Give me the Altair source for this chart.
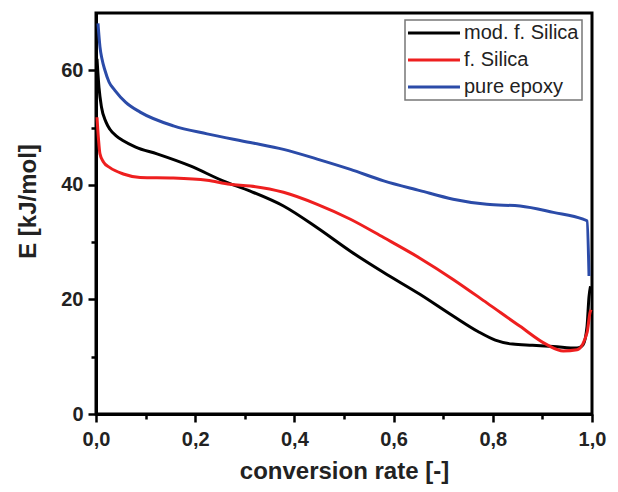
import altair as alt
import pandas as pd

series_names = ["mod. f. Silica", "f. Silica", "pure epoxy"]
series_colors = ["#000000", "#ee1f1f", "#2b4ba8"]

mod_x = [0.002, 0.006, 0.011, 0.02, 0.028, 0.04, 0.055, 0.08, 0.123, 0.19, 0.256,
         0.311, 0.378, 0.446, 0.513, 0.58, 0.653, 0.72, 0.77, 0.805, 0.84, 0.88,
         0.922, 0.97, 0.982, 0.99, 0.994, 0.997]
mod_y = [62.0, 57.0, 53.6, 51.0, 49.7, 48.6, 47.7, 46.6, 45.4, 43.3, 40.7,
         38.9, 36.3, 32.5, 28.4, 24.7, 20.9, 17.1, 14.4, 12.9, 12.2, 12.0,
         11.8, 11.5, 12.1, 15.3, 20.5, 22.3]

fsil_x = [0.002, 0.005, 0.008, 0.015, 0.028, 0.055, 0.089, 0.156, 0.224, 0.27,
          0.311, 0.378, 0.446, 0.513, 0.58, 0.653, 0.72, 0.788, 0.855, 0.909,
          0.942, 0.97, 0.99, 0.996, 0.998]
fsil_y = [51.8, 48.0, 45.4, 44.0, 43.0, 41.9, 41.3, 41.2, 40.8, 40.1,
          39.8, 38.7, 36.6, 34.0, 30.8, 27.2, 23.5, 19.4, 15.3, 12.1,
          11.0, 11.2, 14.2, 17.7, 18.2]

epoxy_x = [0.004, 0.008, 0.012, 0.018, 0.026, 0.038, 0.06, 0.089, 0.156, 0.224,
           0.311, 0.378, 0.446, 0.513, 0.58, 0.653, 0.72, 0.788, 0.855, 0.922,
           0.982, 0.99, 0.994]
epoxy_y = [68.2, 64.1, 62.0, 60.0, 58.0, 56.5, 54.4, 52.7, 50.3, 48.9,
           47.4, 46.2, 44.5, 42.7, 40.7, 39.0, 37.5, 36.6, 36.3, 35.2,
           34.0, 33.7, 24.1]

x_major = [0.0, 0.2, 0.4, 0.6, 0.8, 1.0]
x_minor = [0.1, 0.3, 0.5, 0.7, 0.9]
y_major = [0, 20, 40, 60]
y_minor = [10, 30, 50]

rows = []
for name, xs, ys in zip(series_names, [mod_x, fsil_x, epoxy_x], [mod_y, fsil_y, epoxy_y]):
    for xv, yv in zip(xs, ys):
        rows.append({"series": name, "rate": xv, "E": yv})
df = pd.DataFrame(rows)

FONT = "Liberation Sans"
xscale = alt.Scale(domain=[0, 1], nice=False, zero=False)
yscale = alt.Scale(domain=[0, 70], nice=False)

lines = alt.Chart(df).mark_line(strokeWidth=3, interpolate="monotone").encode(
    x=alt.X("rate:Q", scale=xscale, axis=alt.Axis(
        orient="bottom", values=x_major, title="conversion rate [-]",
        labelExpr="replace(format(datum.value, '.1f'), '.', ',')",
        tickSize=8, labelPadding=7, labelFlush=False, labelOverlap=False,
        titleBaseline="alphabetic", titleY=64)),
    y=alt.Y("E:Q", scale=yscale, axis=alt.Axis(
        orient="left", values=y_major, title="E [kJ/mol]", format="d",
        tickSize=8, labelPadding=5, labelOverlap=False,
        titleAngle=270, titleBaseline="bottom", titleX=-56, titleY=188)),
    color=alt.Color("series:N",
                    scale=alt.Scale(domain=series_names, range=series_colors),
                    legend=alt.Legend(
                        orient="none", legendX=309, legendY=7, title=None,
                        symbolType="M-1.54,0H6.46", symbolSize=169,
                        symbolStrokeWidth=3, labelFont=FONT, labelFontSize=20,
                        labelFontWeight="normal", labelColor="#222222",
                        labelOffset=36, labelLimit=300, padding=3, rowPadding=7,
                        strokeColor="#777777", fillColor="white")),
)

minor = alt.Chart(df).mark_line(strokeOpacity=0).encode(
    x=alt.X("rate:Q", scale=xscale, axis=alt.Axis(
        orient="bottom", values=x_minor, labels=False, domain=False,
        title=None, tickSize=5)),
    y=alt.Y("E:Q", scale=yscale, axis=alt.Axis(
        orient="left", values=y_minor, labels=False, domain=False,
        title=None, tickSize=5)),
)

chart = alt.layer(lines, minor).resolve_axis(
    x="independent", y="independent"
).properties(
    width=496, height=401,
    padding={"left": 88, "top": 5, "right": 16, "bottom": 70},
    autosize=alt.AutoSizeParams(type="none"),
).configure_view(
    stroke="black", strokeWidth=3
).configure_axis(
    grid=False, domainColor="black", domainWidth=3, tickColor="black",
    tickWidth=2.5, labelFont=FONT, labelFontWeight="bold", labelFontSize=20,
    labelColor="#222222", titleFont=FONT, titleFontWeight="bold",
    titleFontSize=24, titleColor="#222222"
).configure_legend(
    strokeWidth=1.5
)

chart.save("out.html", embed_options={"renderer": "svg", "actions": False})
